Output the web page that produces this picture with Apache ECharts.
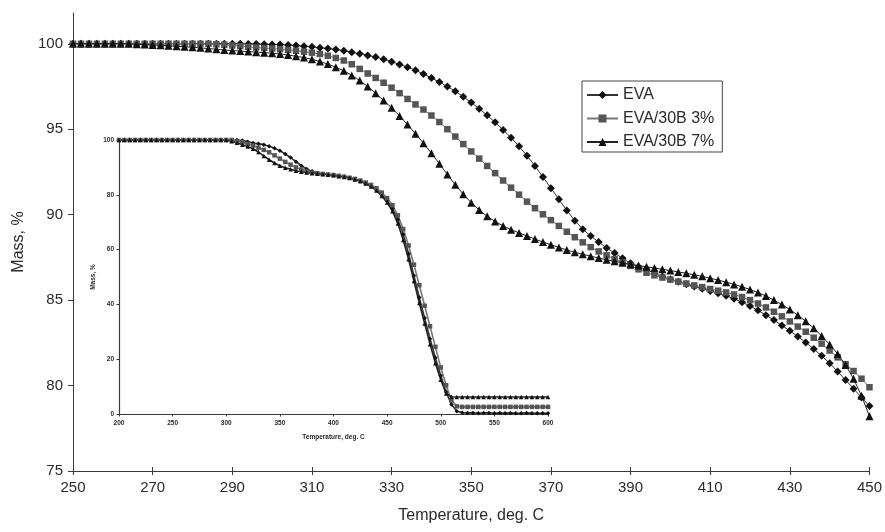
<!DOCTYPE html>
<html>
<head>
<meta charset="utf-8">
<script src="https://cdn.jsdelivr.net/npm/echarts@6/dist/echarts.min.js"></script>
<style>
  html, body { margin: 0; padding: 0; background: #ffffff; }
  #chart { width: 885px; height: 532px; }
</style>
</head>
<body>
<div id="chart"></div>
<script>
// TGA mass-loss curves of EVA and EVA/Cloisite 30B composites.
// Main plot: 250-450 deg. C, sampled every 2 degrees.
const seriesNames = ['EVA', 'EVA/30B 3%', 'EVA/30B 7%'];

const mainTempStart = 250, mainTempStep = 2;
const evaMain = [
  100, 100, 100, 100, 100, 100, 100, 100, 100, 100,
  100, 100, 100, 100, 100, 100, 100, 100, 100, 100, 100,
  100.0, 99.99, 99.98, 99.97, 99.96, 99.95, 99.93, 99.9, 99.86, 99.82,
  99.77, 99.72, 99.66, 99.59, 99.5, 99.41, 99.32, 99.22, 99.1, 98.95,
  98.79, 98.63, 98.45, 98.23, 98.0, 97.76, 97.5, 97.22, 96.9, 96.56,
  96.2, 95.82, 95.4, 94.96, 94.5, 94.0, 93.45, 92.85, 92.2, 91.55,
  90.9, 90.25, 89.65, 89.15, 88.75, 88.4, 88.05, 87.75, 87.45, 87.15,
  86.95, 86.8,
  86.55, 86.38, 86.22, 86.07, 85.93, 85.8, 85.67, 85.54, 85.4, 85.25,
  85.08, 84.88, 84.65, 84.4, 84.12, 83.83, 83.52, 83.2, 82.87, 82.52,
  82.14, 81.74, 81.3, 80.82, 80.32, 79.82, 79.3, 78.8
];
const eva3Main = [
  100, 100, 100, 100, 100, 100, 100, 100, 100, 100,
  100, 100, 100, 100, 100, 100, 100, 100,
  99.97, 99.94, 99.9, 99.86, 99.82, 99.78, 99.75, 99.72, 99.68, 99.64,
  99.59, 99.54, 99.48, 99.4, 99.3, 99.17, 99.02, 98.8, 98.53, 98.26,
  98.0, 97.72, 97.43, 97.11, 96.77, 96.45, 96.15, 95.8, 95.42, 95.0,
  94.57, 94.13, 93.7, 93.28, 92.85, 92.43, 92.0, 91.58, 91.17, 90.76,
  90.38, 90.02, 89.68, 89.34, 89.0, 88.68, 88.38, 88.1, 87.85, 87.62,
  87.4, 87.2, 87.0, 86.8, 86.6, 86.45, 86.32, 86.2, 86.08, 85.97,
  85.86, 85.76, 85.65, 85.55, 85.45, 85.33, 85.18, 85.0, 84.8, 84.57,
  84.32, 84.05, 83.75, 83.45, 83.15, 82.8, 82.45, 82.05, 81.65, 81.25,
  80.85, 80.4, 79.9
];
const eva7Main = [
  100, 100, 100, 100, 100, 100, 100, 100,
  99.97, 99.95, 99.93, 99.91, 99.88, 99.85, 99.82, 99.79, 99.76, 99.72,
  99.68, 99.64, 99.6, 99.57, 99.54, 99.51, 99.48, 99.45, 99.4, 99.34,
  99.27, 99.19, 99.09, 98.96, 98.81, 98.63, 98.42, 98.15, 97.85, 97.5,
  97.1, 96.68, 96.25, 95.78, 95.27, 94.73, 94.18, 93.6, 92.98, 92.35,
  91.75, 91.2, 90.7, 90.27, 89.9, 89.6, 89.34, 89.12, 88.93, 88.75,
  88.57, 88.4, 88.24, 88.08, 87.93, 87.8, 87.68, 87.57, 87.46, 87.36,
  87.27, 87.18, 87.1, 87.02, 86.95, 86.88, 86.8, 86.73, 86.65, 86.57,
  86.48, 86.39, 86.28, 86.17, 86.05, 85.92, 85.78, 85.62, 85.44, 85.24,
  85.0, 84.74, 84.45, 84.12, 83.76, 83.36, 82.9, 82.4, 81.85, 81.2,
  80.4, 79.4, 78.2
];

// Inset: full run 200-600 deg. C, sampled every 5 degrees.
const insetTempStart = 200, insetTempStep = 5;
const evaInset = [
  100, 100, 100, 100, 100, 100, 100, 100, 100, 100,
  100, 100, 100, 100, 100, 100, 100, 100, 100, 100,
  100, 100, 100,
  99.8, 99.4, 98.9, 98.6, 98.3, 97.7, 97.0, 96.1, 94.9, 93.6,
  92.1, 90.6, 89.4, 88.6, 88.0, 87.7, 87.4, 87.2, 86.9, 86.6,
  86.2, 85.6, 85.0, 84.2, 83.2, 81.8, 80.0, 77.8, 75.0, 71.0,
  65.5, 58.5, 50.5, 42.5, 35.0, 27.5, 20.5, 14.0, 8.0, 3.5,
  1.0, 0.5, 0.4, 0.4, 0.3, 0.4, 0.4, 0.3, 0.4, 0.3,
  0.4, 0.3, 0.3, 0.4, 0.3, 0.3, 0.3, 0.3
];
const eva3Inset = [
  100, 100, 100, 100, 100, 100, 100, 100, 100, 100,
  100, 100, 100, 100, 100, 100, 100, 100, 100, 100,
  100, 100,
  99.6, 99.2, 98.6, 98.0, 97.2, 96.4, 95.5, 94.4, 93.2, 92.0,
  91.0, 90.0, 89.2, 88.6, 88.1, 87.8, 87.6, 87.4, 87.2, 86.9,
  86.6, 86.2, 85.8, 85.2, 84.5, 83.6, 82.4, 80.8, 78.8, 76.2,
  72.5, 67.5, 61.5, 54.5, 47.0, 39.5, 32.0, 24.5, 17.0, 10.5,
  5.0, 2.8,
  2.6, 2.6, 2.6, 2.6, 2.6, 2.6, 2.6, 2.6, 2.6, 2.6,
  2.6, 2.6, 2.6, 2.6, 2.6, 2.6, 2.6
];
const eva7Inset = [
  100, 100, 100, 100, 100, 100, 100, 100, 100, 100,
  100, 100, 100, 100, 100, 100, 100, 100, 100, 100,
  100,
  99.5, 99.0, 98.3, 97.6, 96.8, 95.6, 94.2, 92.8, 91.6, 90.6,
  89.9, 89.3, 88.8, 88.4, 88.1, 87.9, 87.7, 87.5, 87.3, 87.1,
  86.8, 86.5, 86.1, 85.6, 84.9, 84.1, 83.0, 81.6, 79.6, 77.2,
  74.0, 69.5, 63.5, 56.5, 48.5, 40.5, 33.0, 25.5, 18.5, 12.5,
  7.5, 6.3,
  6.2, 6.2, 6.2, 6.2, 6.2, 6.2, 6.2, 6.2, 6.2, 6.2,
  6.2, 6.2, 6.2, 6.2, 6.2, 6.2, 6.2, 6.2
];

const mainYTicks = [75, 80, 85, 90, 95, 100];

function pairs(start, step, values) {
  return values.map((v, i) => [start + i * step, v]);
}

const axisColor = '#3a3a3a';
const textColor = '#2a2a2a';
const fontFamily = '"Liberation Sans", Arial, sans-serif';

const styles = [
  { symbol: 'diamond', size: 8, color: '#111111', line: '#333333' },
  { symbol: 'rect', size: 6.5, color: '#555555', line: '#777777' },
  { symbol: 'triangle', size: 8, color: '#111111', line: '#222222' }
];

function mainSeries(i, values) {
  const s = styles[i];
  return {
    name: seriesNames[i], type: 'line', xAxisIndex: 0, yAxisIndex: 0,
    data: pairs(mainTempStart, mainTempStep, values),
    symbol: s.symbol, symbolSize: s.size,
    itemStyle: { color: s.color, borderWidth: 0 },
    lineStyle: { color: s.line, width: 1 },
    animation: false, z: 3 + i
  };
}

function insetSeries(i, values) {
  const s = styles[i];
  return {
    name: seriesNames[i], type: 'line', xAxisIndex: 2, yAxisIndex: 1,
    data: pairs(insetTempStart, insetTempStep, values),
    symbol: s.symbol, symbolSize: 4.5,
    itemStyle: { color: s.color, borderWidth: 0 },
    lineStyle: { color: s.line, width: 1.6 },
    animation: false, z: 2
  };
}

const chart = echarts.init(document.getElementById('chart'), null, { renderer: 'canvas' });

chart.setOption({
  backgroundColor: '#ffffff',
  animation: false,
  textStyle: { fontFamily: fontFamily },
  legend: {
    data: seriesNames,
    orient: 'vertical',
    left: 582, top: 81,
    padding: [6, 8, 2, 4],
    itemGap: 7.5,
    itemWidth: 31, itemHeight: 10,
    borderColor: '#444444', borderWidth: 1,
    backgroundColor: '#ffffff',
    textStyle: { fontSize: 16, color: textColor, lineHeight: 16, fontFamily: fontFamily },
    selectedMode: false
  },
  grid: [
    { left: 73, right: 12, top: 13, bottom: 61, containLabel: false },
    { left: 119, right: 337, top: 140, bottom: 118, containLabel: false }
  ],
  xAxis: [
    {
      gridIndex: 0, type: 'value', min: 250, max: 450, interval: 20,
      name: 'Temperature, deg. C', nameLocation: 'middle', nameGap: 37,
      nameTextStyle: { fontSize: 16, color: textColor },
      axisLine: { show: true, lineStyle: { color: axisColor, width: 1 } },
      axisTick: { show: true, inside: false, length: 4, lineStyle: { color: axisColor } },
      axisLabel: { fontSize: 15, color: textColor, margin: 9 },
      splitLine: { show: false }
    },
    {
      gridIndex: 0, type: 'value', min: 250, max: 450, interval: 20, position: 'bottom',
      axisLine: { show: false },
      axisTick: { show: true, inside: true, length: 4, lineStyle: { color: axisColor } },
      axisLabel: { show: false },
      splitLine: { show: false }
    },
    {
      gridIndex: 1, type: 'value', min: 200, max: 600, interval: 50,
      name: 'Temperature, deg. C', nameLocation: 'middle', nameGap: 20,
      nameTextStyle: { fontSize: 6.5, fontWeight: 'bold', color: textColor },
      axisLine: { show: true, lineStyle: { color: axisColor, width: 1.2 } },
      axisTick: { show: true, length: 2.5, lineStyle: { color: axisColor } },
      axisLabel: { fontSize: 6.5, fontWeight: 'bold', color: textColor, margin: 6 },
      splitLine: { show: false }
    }
  ],
  yAxis: [
    {
      gridIndex: 0, type: 'value', min: 75, max: 101.8, interval: 5,
      name: 'Mass, %', nameLocation: 'middle', nameGap: 45, nameRotate: 90,
      nameTextStyle: { fontSize: 16, color: textColor },
      axisLine: { show: true, lineStyle: { color: axisColor, width: 1 } },
      axisTick: { show: true, length: 5, customValues: mainYTicks, lineStyle: { color: axisColor } },
      axisLabel: {
        fontSize: 15, color: textColor, margin: 10, customValues: mainYTicks,
        formatter: v => (v % 5 === 0 ? String(v) : '')
      },
      splitLine: { show: false }
    },
    {
      gridIndex: 1, type: 'value', min: 0, max: 100, interval: 20,
      name: 'Mass, %', nameLocation: 'middle', nameGap: 22, nameRotate: 90,
      nameTextStyle: { fontSize: 6.5, fontWeight: 'bold', color: textColor },
      axisLine: { show: true, lineStyle: { color: axisColor, width: 1.2 } },
      axisTick: { show: true, length: 2.5, lineStyle: { color: axisColor } },
      axisLabel: { fontSize: 6.5, fontWeight: 'bold', color: textColor, margin: 5 },
      splitLine: { show: false }
    }
  ],
  series: [
    mainSeries(0, evaMain),
    mainSeries(1, eva3Main),
    mainSeries(2, eva7Main),
    insetSeries(0, evaInset),
    insetSeries(1, eva3Inset),
    insetSeries(2, eva7Inset)
  ]
});
</script>
</body>
</html>
